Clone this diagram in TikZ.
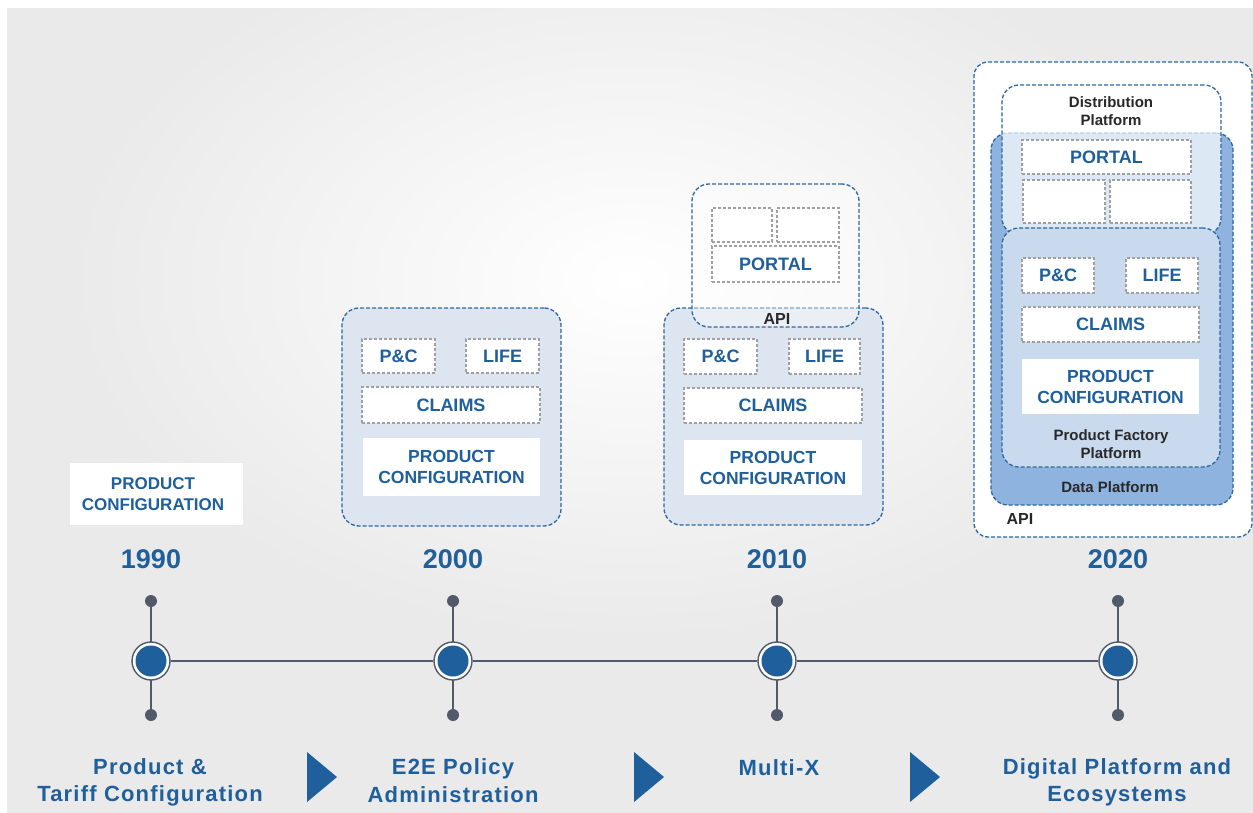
\documentclass[tikz,border=0pt]{standalone}
\usepackage{fontspec}
\setmainfont{Liberation Sans}
\newfontfamily\lblfont[LetterSpace=5.5]{Liberation Sans}
\usetikzlibrary{shapes.geometric}
\definecolor{bggray}{RGB}{234,234,234}
\definecolor{tblue}{RGB}{31,95,155}
\definecolor{dblue}{RGB}{46,104,162}
\definecolor{lblue}{RGB}{220,229,240}
\definecolor{mblue}{RGB}{143,179,223}
\definecolor{pfblue}{RGB}{201,218,238}
\definecolor{slate}{RGB}{80,90,106}
\definecolor{cgray}{RGB}{160,160,160}
\definecolor{dtext}{RGB}{40,40,40}
\newcommand{\fsz}[1]{\fontsize{#1}{#1}\selectfont}
\begin{document}
\begin{tikzpicture}[x=1pt,y=-1pt,
  grp/.style={rounded corners=17pt, draw=dblue, line width=1.3pt, dash pattern=on 4pt off 2pt, fill=lblue, inner sep=0pt},
  cell/.style={draw=cgray, line width=1.1pt, dash pattern=on 3pt off 2pt, fill=white, inner sep=0pt, text=tblue, font=\bfseries\fsz{18}},
  pcbox/.style={fill=white, inner sep=0pt, text=tblue, align=center, font=\bfseries\fontsize{17.5}{21}\selectfont},
  year/.style={text=tblue, font=\bfseries\fsz{27}},
  lbl/.style={text=tblue, align=center, font=\lblfont\bfseries\fontsize{22}{27.5}\selectfont},
  dlbl/.style={text=dtext, align=center, font=\bfseries\fontsize{15}{18.5}\selectfont},
  ring/.style={circle, draw=slate, line width=1.4pt, fill=white, minimum size=38pt, inner sep=0pt},
  core/.style={circle, fill=tblue, minimum size=31pt, inner sep=0pt},
  tdot/.style={circle, fill=slate, minimum size=12pt, inner sep=0pt},
  tline/.style={draw=slate, line width=2.2pt},
  tri/.style={fill=tblue}
]
\useasboundingbox (0,0) rectangle (1253,813);
% background
\fill[bggray] (7,8) rectangle (1253,813);
\shade[inner color=white, outer color=bggray] (630,280) ellipse [x radius=560pt, y radius=360pt];
\fill[bggray, even odd rule] (0,0) rectangle (1253,813) (7,8) rectangle (1253,813);
\fill[white] (0,0) rectangle (1253,8);
\fill[white] (0,0) rectangle (7,813);

% timeline
\foreach \n/\x in {a/151,b/453,c/777,d/1118}{
  \node[tdot] (top-\n) at (\x,601) {};
  \node[tdot] (bot-\n) at (\x,715) {};
}
\draw[tline] (top-a.center) -- (bot-a.center);
\draw[tline] (top-b.center) -- (bot-b.center);
\draw[tline] (top-c.center) -- (bot-c.center);
\draw[tline] (top-d.center) -- (bot-d.center);
\node[ring] (ra) at (151,661) {};
\node[ring] (rb) at (453,661) {};
\node[ring] (rc) at (777,661) {};
\node[ring] (rd) at (1118,661) {};
\draw[tline] (ra) -- (rb);
\draw[tline] (rb) -- (rc);
\draw[tline] (rc) -- (rd);
\node[core] at (151,661) {};
\node[core] at (453,661) {};
\node[core] at (777,661) {};
\node[core] at (1118,661) {};

% years
\node[year] (y1) at (151,559) {1990};
\node[year] (y2) at (453,559) {2000};
\node[year] (y3) at (777,559) {2010};
\node[year] (y4) at (1118,559) {2020};

% bottom labels
\node[lbl] (l1) at (150,782.5) {Product \&\\Tariff Configuration};
\node[lbl] (l2) at (453,780.5) {E2E Policy\\Administration};
\node[lbl] (l3) at (779,767.5) {Multi-X};
\node[lbl] (l4) at (1117,782.5) {Digital Platform and\\Ecosystems};
\fill[tri] (307,752) -- (337,777) -- (307,802) -- cycle;
\fill[tri] (634,752) -- (664,777) -- (634,802) -- cycle;
\fill[tri] (910,752) -- (940,777) -- (910,802) -- cycle;

% 1990
\node[pcbox, minimum width=173pt, minimum height=62pt] (pc1) at (156.5,494) {};
\node[text=tblue, align=center, font=\bfseries\fontsize{17}{21.5}\selectfont] at (153,494) {PRODUCT\\CONFIGURATION};

% 2000
\node[grp, minimum width=219pt, minimum height=218pt] (g2) at (451.5,417) {};
\node[cell, minimum width=73pt, minimum height=34pt] (pc2) at (398.5,356) {P\&C};
\node[cell, minimum width=73pt, minimum height=34pt] (li2) at (502.5,356) {LIFE};
\node[cell, minimum width=178pt, minimum height=36pt] (cl2) at (451,405) {CLAIMS};
\node[pcbox, minimum width=177pt, minimum height=58pt] (pr2) at (451.5,467) {PRODUCT\\CONFIGURATION};

% 2010
\node[grp, minimum width=219pt, minimum height=217pt] (g3) at (773.5,416.5) {};
\node[grp, fill=white, fill opacity=0.4, draw opacity=1, minimum width=167pt, minimum height=143pt] (g3u) at (775.5,255.5) {};
\node[cell, minimum width=60pt, minimum height=34pt] (b31) at (742,225) {};
\node[cell, minimum width=62pt, minimum height=34pt] (b32) at (808,225) {};
\node[cell, minimum width=127pt, minimum height=36pt] (po3) at (775.5,264) {PORTAL};
\node[text=dtext, font=\bfseries\fsz{16}] (api3) at (777,319) {API};
\node[cell, minimum width=73pt, minimum height=35pt] (pc3) at (720.5,356.5) {P\&C};
\node[cell, minimum width=71pt, minimum height=35pt] (li3) at (824.5,356.5) {LIFE};
\node[cell, minimum width=178pt, minimum height=35pt] (cl3) at (773,405.5) {CLAIMS};
\node[pcbox, minimum width=178pt, minimum height=55pt] (pr3) at (773,467.5) {PRODUCT\\CONFIGURATION};

% 2020
\node[grp, rounded corners=14pt, fill=white, minimum width=278pt, minimum height=475pt] (g4) at (1113,299.5) {};
\node[grp, fill=mblue, minimum width=242pt, minimum height=372pt] (dp4) at (1112,319) {};
\node[grp, fill=white, fill opacity=0.7, draw opacity=1, minimum width=219pt, minimum height=150pt] (ds4) at (1111.5,160) {};
\node[grp, fill=pfblue, minimum width=218pt, minimum height=239pt] (pf4) at (1111,347.5) {};
\node[dlbl] (dst) at (1111,111) {Distribution\\Platform};
\node[cell, minimum width=169pt, minimum height=34pt] (po4) at (1106.5,157) {PORTAL};
\node[cell, minimum width=82pt, minimum height=43pt] (b41) at (1064,201.5) {};
\node[cell, minimum width=81pt, minimum height=43pt] (b42) at (1150.5,201.5) {};
\node[cell, minimum width=72pt, minimum height=35pt] (pc4) at (1058,275.5) {P\&C};
\node[cell, minimum width=72pt, minimum height=35pt] (li4) at (1162,275.5) {LIFE};
\node[cell, minimum width=177pt, minimum height=35pt] (cl4) at (1110.5,324.5) {CLAIMS};
\node[pcbox, minimum width=177pt, minimum height=55pt] (pr4) at (1110.5,386.5) {PRODUCT\\CONFIGURATION};
\node[dlbl] (pft) at (1111,444) {Product Factory\\Platform};
\node[dlbl] (dpt) at (1110,487) {Data Platform};
\node[text=dtext, font=\bfseries\fsz{16}] (api4) at (1020,519) {API};
\end{tikzpicture}
\end{document}
